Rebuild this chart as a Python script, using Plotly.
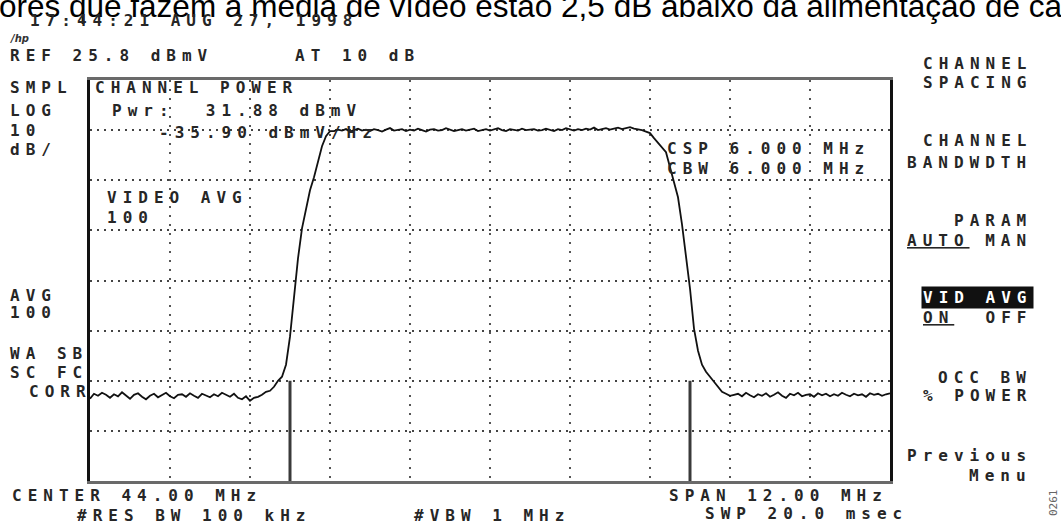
import plotly.graph_objects as go

# ---------------- analyzer settings ----------------
center_mhz = 44.0
span_mhz = 12.0
ref_dbmv = 25.8
db_per_div = 10
n_vdiv = 8
n_hdiv = 10
channel_bw_mhz = 6.0
marker_top_dbmv = -34.2
n_points = 201

f_start = center_mhz - span_mhz / 2
f_stop = center_mhz + span_mhz / 2
bottom_dbmv = ref_dbmv - db_per_div * n_vdiv
freq_mhz = [round(f_start + i * span_mhz / (n_points - 1), 3) for i in range(n_points)]

# ---------------- trace levels (dBmV) ----------------
floor_left = [-37.8, -36.8, -37.2, -36.6, -37.0, -37.6, -36.9, -37.3, -36.5, -37.1,
              -37.8, -37.0, -36.7, -37.4, -37.9, -37.2, -36.8, -37.5, -37.1, -36.6,
              -37.3, -37.7, -37.0, -36.9, -37.4, -36.7, -37.2, -37.6, -36.8, -37.1,
              -37.5, -36.9, -37.3, -36.6, -37.0, -37.4, -36.8, -37.6, -37.9, -37.3]
rising_edge = [-38.2, -37.6, -37.4, -37.0, -36.4, -36.2, -35.4, -34.2, -33.4, -31.0,
               -25.4, -17.0, -9.8, -3.8, 0.4, 3.8, 6.4, 9.8, 12.6, 14.6, 15.6]
plateau = [15.6, 15.9, 15.7, 16.0, 15.5, 15.8, 16.1, 15.7, 15.9, 15.6,
           16.0, 15.8, 15.5, 15.9, 16.2, 15.7, 15.8, 16.0, 15.6, 15.9,
           15.7, 16.1, 15.8, 15.5, 15.9, 16.0, 15.7, 15.8, 16.2, 15.9,
           15.6, 15.8, 16.0, 15.7, 15.9, 16.1, 15.6, 15.8, 16.0, 15.7,
           15.9, 16.2, 15.8, 15.6, 16.0, 15.9, 15.7, 16.1, 15.8, 15.9,
           16.0, 15.7, 15.8, 16.1, 15.9, 15.6, 16.0, 15.8, 16.2, 15.9,
           15.7, 16.0, 15.8, 16.1, 15.9, 16.3, 15.8, 16.0, 16.2, 15.9,
           16.1, 16.3, 16.0, 16.2, 16.4, 16.1, 16.0, 15.8, 15.5]
falling_edge = [15.2, 14.2, 13.2, 12.4, 11.4, 8.4, 5.4, 2.4, -3.0, -9.0,
                -15.8, -23.8, -28.2, -31.0, -32.4, -33.4, -34.4, -35.6, -36.4, -36.8, -37.2]
floor_right = [-37.0, -36.8, -37.3, -36.6, -37.1, -37.5, -36.9, -37.2, -36.7, -37.4,
               -37.0, -36.5, -37.2, -37.6, -36.8, -37.1, -36.6, -37.3, -37.0, -36.9,
               -37.4, -36.7, -37.1, -36.8, -37.3, -36.9, -37.2, -36.6, -37.0, -37.3,
               -36.8, -37.1, -36.9, -37.4, -36.7, -37.0, -36.8, -37.2, -36.9, -36.7]
level_dbmv = floor_left + rising_edge + plateau + falling_edge + floor_right

# channel edge markers
edge_lo = center_mhz - channel_bw_mhz / 2
edge_hi = center_mhz + channel_bw_mhz / 2

# ---------------- screen texts ----------------
title_text = "ores que fazem a média de vídeo estão 2,5 dB abaixo da alimentação de ca"
left_texts = [
    ("17:44:21 AUG 27, 1998", 28, 21),
    ("REF 25.8 dBmV", 8, 56),
    ("AT 10 dB", 293, 56),
    ("SMPL", 8, 88), ("LOG", 8, 110), ("10", 8, 130), ("dB/", 8, 149),
    ("AVG", 8, 295), ("100", 8, 312),
    ("WA SB", 8, 353), ("SC FC", 8, 372), ("CORR", 27, 391),
    ("CHANNEL POWER", 93, 88),
    ("Pwr:  31.88 dBmV", 110, 111),
    ("-35.90 dBmV/Hz", 157, 132),
    ("VIDEO AVG", 105, 197), ("100", 105, 217),
    ("CSP 6.000 MHz", 665, 148), ("CBW 6.000 MHz", 665, 168),
    ("CENTER 44.00 MHz", 10, 495),
    ("#RES BW 100 kHz", 75, 515),
    ("#VBW 1 MHz", 412, 515),
    ("SPAN 12.00 MHz", 667, 495),
    ("SWP 20.0 msec", 703, 513),
]
menu_texts = [
    ("CHANNEL", 63), ("SPACING", 83),
    ("CHANNEL", 140), ("BANDWDTH", 162),
    ("PARAM", 220),
    ("OCC BW", 377), ("% POWER", 395),
    ("Previous", 455), ("Menu", 475),
]

# ---------------- geometry helpers ----------------
W, H = 1061, 522
ML, MR, MT, MB = 90, 171, 80, 41
PW, PH = W - ML - MR, H - MT - MB


def px(x):
    return (x - ML) / PW


def py(y):
    return (H - MB - y) / PH


LS = "letter-spacing:6px"
MONO = dict(family="DejaVu Sans Mono", size=16, color="#262626", weight="bold")


def sp(t, extra=""):
    return f"<span style='{LS}{extra}'>{t}</span>"


fig = go.Figure()

fig.add_trace(go.Scatter(
    x=freq_mhz, y=level_dbmv, mode="lines",
    line=dict(color="#111111", width=1.8),
    hoverinfo="skip", showlegend=False))

fig.add_trace(go.Scatter(
    x=[edge_lo, edge_lo, None, edge_hi, edge_hi],
    y=[bottom_dbmv, marker_top_dbmv, None, bottom_dbmv, marker_top_dbmv],
    mode="lines", line=dict(color="#3a3a3a", width=3),
    hoverinfo="skip", showlegend=False))

ann = []
ann.append(dict(text=title_text, x=px(-3), y=py(-14), xanchor="left", yanchor="top",
                font=dict(family="Liberation Sans", size=31.5, color="#000000")))
ann.append(dict(text="<i><b>/hp</b></i>", x=px(8), y=py(38), xanchor="left", yanchor="middle",
                font=dict(family="DejaVu Sans", size=10, color="#333333")))
for t, x, y in left_texts:
    ann.append(dict(text=sp(t), x=px(x), y=py(y), xanchor="left", yanchor="middle", font=MONO))
for t, y in menu_texts:
    ann.append(dict(text=sp(t), x=px(1034), y=py(y), xanchor="right", yanchor="middle", font=MONO))
ann.append(dict(text=sp("AUTO", ";text-decoration:underline") + sp(" MAN"),
                x=px(1034), y=py(240), xanchor="right", yanchor="middle", font=MONO))
ann.append(dict(text=sp("VID AVG"), x=px(1034), y=py(297), xanchor="right", yanchor="middle",
                font=dict(family="DejaVu Sans Mono", size=16, color="#ffffff", weight="bold"),
                bgcolor="#111111", borderpad=1))
ann.append(dict(text=sp("ON", ";text-decoration:underline") + sp("  OFF"),
                x=px(1034), y=py(317), xanchor="right", yanchor="middle", font=MONO))
ann.append(dict(text="0261", x=px(1054), y=py(503), xanchor="center", yanchor="middle",
                textangle=-90, font=dict(family="DejaVu Sans Mono", size=11, color="#666666")))

for a in ann:
    a.update(xref="paper", yref="paper", showarrow=False)

fig.update_layout(
    width=W, height=H,
    margin=dict(l=ML, r=MR, t=MT, b=MB),
    paper_bgcolor="#ffffff", plot_bgcolor="#ffffff",
    annotations=ann,
    showlegend=False,
    xaxis=dict(range=[f_start, f_stop], tick0=f_start, dtick=span_mhz / n_hdiv,
               showgrid=True, gridcolor="#555555", gridwidth=2, griddash="2px,7px",
               showticklabels=False, ticks="", zeroline=False,
               showline=True, mirror=True, linecolor="#6a6a6a", linewidth=3, fixedrange=True),
    yaxis=dict(range=[bottom_dbmv, ref_dbmv], tick0=ref_dbmv, dtick=db_per_div,
               showgrid=True, gridcolor="#444444", gridwidth=2, griddash="2px,5px",
               showticklabels=False, ticks="", zeroline=False,
               showline=True, mirror=True, linecolor="#111111", linewidth=3, fixedrange=True),
)

fig.write_html("out.html", config={"displayModeBar": False},
               post_script="document.body.style.margin='0';document.body.style.overflow='hidden';")
